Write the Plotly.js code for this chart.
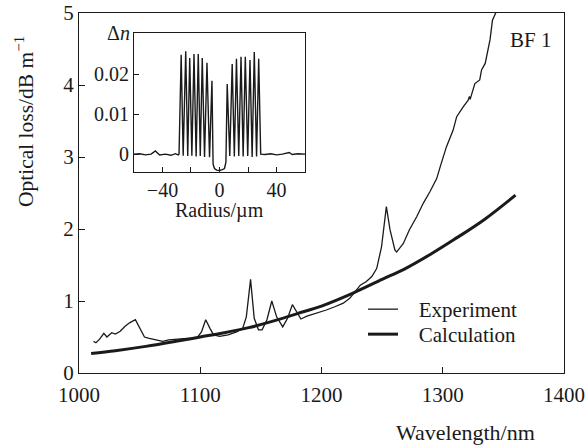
<!DOCTYPE html>
<html>
<head>
<meta charset="utf-8">
<script src="https://cdn.plot.ly/plotly-3.0.1.min.js"></script>
<style>html,body{margin:0;padding:0;background:#fff;}</style>
</head>
<body>
<div id="chart" style="width:587px;height:445px;"></div>
<script>
// Main chart: optical loss vs wavelength
const expWavelength = [1012,1014,1017,1020.5,1023,1027,1030,1034,1038,1042,1046.5,1050,1054,1058,1064,1069,1074,1079,1084,1089,1094,1097,1101,1104.5,1108,1111,1116,1123,1130,1135,1138,1141.5,1144.5,1148,1151,1155,1159,1163,1168,1172,1176,1179.5,1183,1188,1196,1204,1211,1218,1223.5,1227.5,1232,1237,1241.5,1245.5,1249.5,1253.5,1256.5,1260.5,1262,1267.5,1272.5,1278.5,1284,1289.5,1295,1298,1303,1308.5,1311.5,1317,1321,1322,1322.6,1324,1326.5,1330.5,1332,1335,1339,1341,1343.5,1345];
const expLoss = [0.44,0.42,0.47,0.55,0.50,0.56,0.54,0.58,0.65,0.70,0.74,0.62,0.50,0.48,0.46,0.44,0.46,0.47,0.47,0.48,0.48,0.48,0.57,0.74,0.62,0.53,0.51,0.53,0.57,0.62,0.78,1.30,0.76,0.60,0.60,0.74,1.00,0.78,0.64,0.76,0.95,0.85,0.75,0.79,0.83,0.875,0.92,0.97,1.04,1.13,1.22,1.27,1.34,1.45,1.75,2.31,1.99,1.71,1.68,1.80,1.99,2.17,2.36,2.52,2.70,2.87,3.14,3.37,3.56,3.70,3.79,3.84,3.80,3.88,4.02,4.07,4.21,4.30,4.63,4.90,5.00,5.05];

const calcWavelength = [1010,1030,1055,1080,1100,1120,1140,1160,1185,1200,1226,1250,1268,1290,1309,1335,1360];
const calcLoss = [0.27,0.31,0.37,0.44,0.50,0.56,0.63,0.72,0.85,0.93,1.11,1.30,1.44,1.65,1.85,2.14,2.47];

// Inset: refractive index profile
const radius = [-60,-56,-52,-48,-45,-42,-38,-34,-31,-29,-28.4,-26.9,-25.5,-23.7,-22.3,-20.9,-19.4,-17.9,-16.4,-14.9,-13.5,-12.1,-10.5,-8.8,-7.0,-5.3,-4.5,-3.5,-2,0,2,3.5,4.5,5.4,7.2,8.9,10.4,11.9,13.5,15.1,16.6,18.1,19.8,21.4,22.9,24.4,26.0,27.5,28.9,32,36,40,44,48.9,51,55,60];
const deltaN = [0,0.0001,-0.0002,0,0.0008,-0.0002,0,-0.0003,0.0001,-0.0002,0,0.0248,-0.0004,0.0257,-0.0005,0.0240,-0.0004,0.0250,-0.0006,0.0250,-0.0005,0.0240,-0.0007,0.0228,-0.0008,0.0183,-0.0025,-0.0036,-0.0040,-0.0041,-0.0039,-0.0036,-0.0020,0.0175,-0.0005,0.0225,-0.0006,0.0238,-0.0005,0.0243,-0.0006,0.0243,-0.0005,0.0235,-0.0007,0.0255,-0.0006,0.0238,0,-0.0001,0.0001,-0.0002,0,0.0004,-0.0001,0.0001,0];

const xTicks = [1000,1100,1200,1300,1400];
const yTicks = [0,1,2,3,4,5];
const insetXTicks = [-40,0,40];
const insetXLabels = ['\u221240','0','40'];
const insetXMinor = [-20,20];
const insetYTicks = [0,0.01,0.02];
const insetYLabels = ['0','0.01','0.02'];
const seriesNames = ['Experiment','Calculation'];

const ink = '#1a1a1a';
const serif = 'Liberation Serif, Times New Roman, serif';
const pad = '\u00a0\u00a0\u00a0';

const traces = [
  {x: expWavelength, y: expLoss, type: 'scatter', mode: 'lines', name: pad + seriesNames[0],
   line: {color: ink, width: 1.3}, xaxis: 'x', yaxis: 'y', legend: 'legend'},
  {x: calcWavelength, y: calcLoss, type: 'scatter', mode: 'lines', name: pad + seriesNames[1],
   line: {color: ink, width: 3, shape: 'spline'}, xaxis: 'x', yaxis: 'y', legend: 'legend2'},
  {x: radius, y: deltaN, type: 'scatter', mode: 'lines', showlegend: false,
   line: {color: ink, width: 1.4}, xaxis: 'x2', yaxis: 'y2'}
];

const legendStyle = {xanchor: 'left', yanchor: 'top', bgcolor: 'rgba(0,0,0,0)', borderwidth: 0,
                     font: {family: serif, size: 21, color: ink}};

const layout = {
  width: 587, height: 445,
  margin: {l: 79, r: 23, t: 13, b: 72},
  paper_bgcolor: '#fff', plot_bgcolor: '#fff',
  font: {family: serif, size: 21, color: ink},
  showlegend: true,
  legend: Object.assign({x: 0.5856, y: 0.2333}, legendStyle),
  legend2: Object.assign({x: 0.5856, y: 0.1639}, legendStyle),
  xaxis: {range: [1000, 1400], tickvals: xTicks, ticks: 'inside', ticklen: 6, tickcolor: ink,
          showline: true, linecolor: ink, linewidth: 1, mirror: true, showgrid: false, zeroline: false,
          ticklabelstandoff: 3,
          tickfont: {family: serif, size: 21, color: ink}, domain: [0, 1]},
  yaxis: {range: [0, 5], tickvals: yTicks, ticks: 'inside', ticklen: 6, tickcolor: ink,
          showline: true, linecolor: ink, linewidth: 1, mirror: true, showgrid: false, zeroline: false,
          tickfont: {family: serif, size: 21, color: ink}, domain: [0, 1]},
  xaxis2: {range: [-60, 60], tickvals: insetXTicks, ticktext: insetXLabels, ticks: 'inside', ticklen: 5,
           tickcolor: ink, showline: true, linecolor: ink, linewidth: 1, mirror: true, showgrid: false,
           minor: {tickmode: 'array', tickvals: insetXMinor, ticks: 'inside', ticklen: 5, tickcolor: ink, showgrid: false},
           zeroline: false, anchor: 'y2', domain: [0.1134, 0.466],
           tickfont: {family: serif, size: 20, color: ink}},
  yaxis2: {range: [-0.0045, 0.0302], tickvals: insetYTicks, ticktext: insetYLabels, ticks: 'inside', ticklen: 5,
           tickcolor: ink, showline: true, linecolor: ink, linewidth: 1, mirror: true, showgrid: false,
           zeroline: false, anchor: 'x2', domain: [0.558, 0.944],
           tickfont: {family: serif, size: 20, color: ink}},
  annotations: [
    {text: 'Optical loss/dB m<sup>\u22121</sup>', xref: 'paper', yref: 'paper', x: -0.1134, y: 0.697,
     xanchor: 'center', yanchor: 'middle', textangle: -90, showarrow: false,
     font: {family: serif, size: 21.5, color: ink}},
    {text: 'Wavelength/nm', xref: 'paper', yref: 'paper', x: 0.796, y: -0.164,
     xanchor: 'center', yanchor: 'middle', showarrow: false,
     font: {family: serif, size: 22, color: ink}},
    {text: 'BF 1', xref: 'paper', yref: 'paper', x: 0.93, y: 0.925,
     xanchor: 'center', yanchor: 'middle', showarrow: false,
     font: {family: serif, size: 21, color: ink}},
    {text: '\u0394<i>n</i>', xref: 'paper', yref: 'paper', x: 0.109, y: 0.944,
     xanchor: 'right', yanchor: 'middle', showarrow: false,
     font: {family: serif, size: 20, color: ink}},
    {text: 'Radius/\u00b5m', xref: 'paper', yref: 'paper', x: 0.29, y: 0.452,
     xanchor: 'center', yanchor: 'middle', showarrow: false,
     font: {family: serif, size: 20, color: ink}}
  ]
};

Plotly.newPlot('chart', traces, layout, {displayModeBar: false, staticPlot: true});
</script>
</body>
</html>
